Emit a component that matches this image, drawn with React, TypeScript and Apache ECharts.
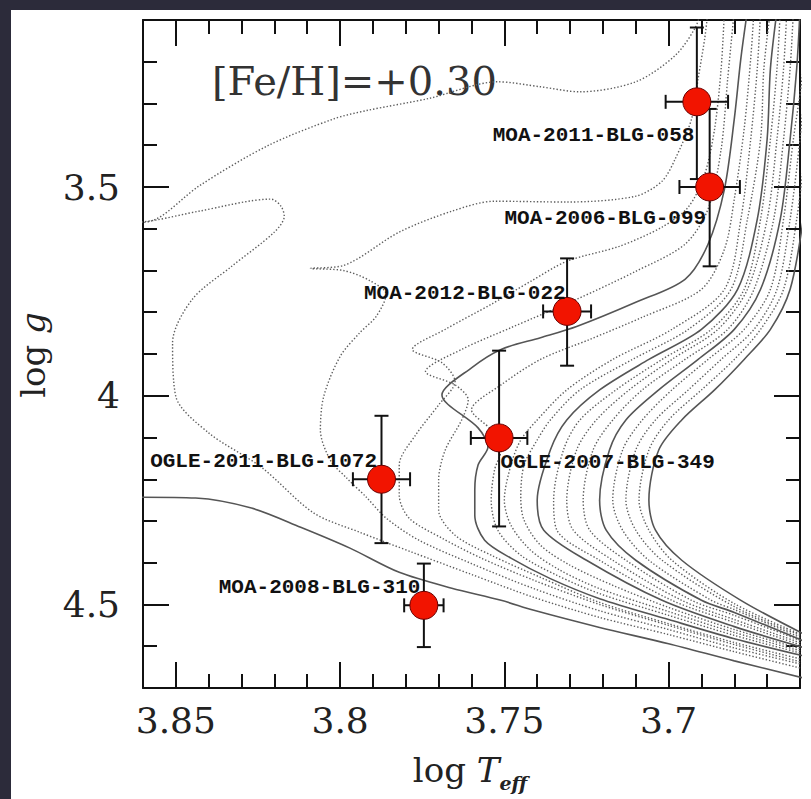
import React, { useEffect, useRef } from "react";
import * as echarts from "echarts";

// ---- Stars (microlensed dwarfs) ----
const starNames = [
  "MOA-2011-BLG-058",
  "MOA-2006-BLG-099",
  "MOA-2012-BLG-022",
  "OGLE-2007-BLG-349",
  "OGLE-2011-BLG-1072",
  "MOA-2008-BLG-310",
];
const starLogTeff = [3.6914, 3.6875, 3.7309, 3.7516, 3.7874, 3.7745];
const starLogg = [3.296, 3.5, 3.798, 4.101, 4.2, 4.502];
const starTeffErr = [0.0095, 0.0092, 0.0073, 0.0086, 0.0087, 0.006];
const starLoggErrLow = [0.178, 0.187, 0.127, 0.209, 0.152, 0.1];
const starLoggErrHigh = [0.185, 0.19, 0.13, 0.212, 0.153, 0.1];

// ---- Axis ticks ----
const xMajorTicks = [3.7, 3.75, 3.8, 3.85];
const xMinorTicks = [3.67, 3.68, 3.69, 3.7, 3.71, 3.72, 3.73, 3.74, 3.75, 3.76, 3.77, 3.78, 3.79, 3.8, 3.81, 3.82, 3.83, 3.84, 3.85];
const yMajorTicks = [3.5, 4, 4.5];
const yMinorTicks = [3.2, 3.3, 3.4, 3.5, 3.6, 3.7, 3.8, 3.9, 4.0, 4.1, 4.2, 4.3, 4.4, 4.5, 4.6];

// ---- Isochrones [logTeff, logg] ----
const isoS0 = [[3.865,4.243],[3.860,4.243],[3.844,4.245],[3.827,4.269],[3.812,4.315],[3.797,4.365],[3.782,4.423],[3.766,4.461],[3.751,4.490],[3.741,4.514],[3.721,4.555],[3.700,4.594],[3.680,4.635],[3.659,4.676]];
const isoD1 = [[3.659,4.654],[3.680,4.613],[3.700,4.572],[3.721,4.531],[3.741,4.483],[3.760,4.428],[3.778,4.375],[3.794,4.327],[3.808,4.281],[3.824,4.171],[3.840,4.089],[3.850,4.002],[3.851,3.873],[3.845,3.769],[3.833,3.690],[3.820,3.608],[3.817,3.570],[3.818,3.546],[3.821,3.529],[3.843,3.558],[3.856,3.579],[3.866,3.589],[3.856,3.577],[3.843,3.498],[3.822,3.401],[3.802,3.337],[3.792,3.317],[3.773,3.288],[3.752,3.248],[3.739,3.260],[3.727,3.272],[3.710,3.248],[3.698,3.185],[3.692,3.120],[3.690,3.077]];
const isoD2 = [[3.659,4.644],[3.680,4.604],[3.700,4.560],[3.721,4.515],[3.741,4.462],[3.760,4.402],[3.776,4.346],[3.786,4.293],[3.792,4.243],[3.798,4.197],[3.803,4.154],[3.806,4.082],[3.805,4.002],[3.800,3.906],[3.794,3.849],[3.789,3.810],[3.786,3.757],[3.791,3.724],[3.799,3.700],[3.809,3.695],[3.799,3.688],[3.782,3.608],[3.766,3.558],[3.753,3.534],[3.731,3.536],[3.710,3.522],[3.702,3.486],[3.698,3.433],[3.693,3.337],[3.691,3.240],[3.689,3.144],[3.688,3.077]];
const isoD3 = [[3.659,4.639],[3.680,4.596],[3.700,4.550],[3.721,4.500],[3.741,4.442],[3.757,4.389],[3.769,4.341],[3.779,4.293],[3.782,4.238],[3.782,4.166],[3.777,4.094],[3.770,4.022],[3.765,3.966],[3.769,3.921],[3.778,3.889],[3.768,3.841],[3.754,3.781],[3.742,3.726],[3.731,3.678],[3.715,3.642],[3.702,3.596],[3.694,3.548],[3.689,3.469],[3.686,3.361],[3.684,3.216],[3.683,3.077]];
const isoD4 = [[3.659,4.632],[3.680,4.591],[3.700,4.546],[3.721,4.495],[3.739,4.435],[3.754,4.382],[3.765,4.334],[3.770,4.274],[3.770,4.202],[3.768,4.130],[3.763,4.058],[3.761,4.010],[3.765,3.974],[3.774,3.942],[3.763,3.889],[3.748,3.837],[3.728,3.769],[3.710,3.702],[3.695,3.637],[3.688,3.553],[3.684,3.409],[3.682,3.240],[3.680,3.077]];
const isoS1 = [[3.659,4.623],[3.680,4.582],[3.700,4.536],[3.721,4.486],[3.736,4.438],[3.748,4.389],[3.756,4.346],[3.759,4.286],[3.759,4.226],[3.758,4.166],[3.755,4.123],[3.758,4.077],[3.769,3.998],[3.760,3.933],[3.751,3.889],[3.739,3.861],[3.728,3.834],[3.710,3.776],[3.695,3.721],[3.688,3.637],[3.683,3.505],[3.680,3.337],[3.678,3.192],[3.676,3.077]];
const isoK1 = [[3.659,4.618],[3.680,4.574],[3.700,4.526],[3.721,4.474],[3.734,4.430],[3.745,4.382],[3.752,4.322],[3.754,4.250],[3.753,4.178],[3.751,4.130],[3.754,4.082],[3.760,4.034],[3.751,3.974],[3.739,3.913],[3.724,3.865],[3.708,3.812],[3.690,3.745],[3.683,3.649],[3.680,3.529],[3.677,3.361],[3.675,3.192],[3.674,3.077]];
const isoK2 = [[3.659,4.613],[3.680,4.567],[3.700,4.517],[3.721,4.462],[3.733,4.418],[3.742,4.370],[3.748,4.310],[3.750,4.250],[3.748,4.166],[3.745,4.106],[3.740,4.058],[3.731,3.986],[3.717,3.913],[3.699,3.841],[3.683,3.745],[3.678,3.577],[3.675,3.385],[3.673,3.216],[3.672,3.077]];
const isoK3 = [[3.659,4.608],[3.680,4.560],[3.700,4.507],[3.717,4.454],[3.730,4.406],[3.739,4.358],[3.744,4.298],[3.745,4.243],[3.744,4.166],[3.740,4.106],[3.736,4.058],[3.727,3.986],[3.711,3.913],[3.694,3.841],[3.681,3.745],[3.676,3.577],[3.672,3.385],[3.671,3.216],[3.669,3.077]];
const isoK4 = [[3.659,4.603],[3.680,4.553],[3.702,4.490],[3.725,4.394],[3.738,4.322],[3.740,4.250],[3.736,4.130],[3.731,4.058],[3.721,3.986],[3.706,3.913],[3.690,3.841],[3.679,3.745],[3.673,3.577],[3.670,3.385],[3.669,3.216],[3.667,3.077]];
const isoK5 = [[3.659,4.599],[3.680,4.543],[3.699,4.490],[3.721,4.394],[3.734,4.322],[3.735,4.250],[3.732,4.130],[3.727,4.058],[3.716,3.986],[3.702,3.913],[3.687,3.841],[3.677,3.745],[3.672,3.577],[3.669,3.385],[3.667,3.216],[3.666,3.077]];
const isoK6 = [[3.659,4.594],[3.680,4.536],[3.696,4.490],[3.717,4.394],[3.729,4.322],[3.731,4.250],[3.728,4.130],[3.722,4.058],[3.712,3.986],[3.699,3.913],[3.685,3.841],[3.676,3.745],[3.670,3.577],[3.667,3.385],[3.665,3.216],[3.664,3.077]];
const isoK7 = [[3.659,4.589],[3.680,4.526],[3.693,4.490],[3.713,4.394],[3.724,4.322],[3.726,4.250],[3.723,4.130],[3.717,4.058],[3.708,3.986],[3.695,3.913],[3.682,3.841],[3.674,3.745],[3.668,3.577],[3.665,3.385],[3.663,3.216],[3.662,3.077]];
const isoK8 = [[3.659,4.587],[3.680,4.519],[3.690,4.490],[3.710,4.394],[3.719,4.322],[3.721,4.250],[3.718,4.130],[3.713,4.058],[3.703,3.986],[3.691,3.913],[3.680,3.841],[3.672,3.745],[3.666,3.577],[3.663,3.385],[3.661,3.216],[3.660,3.077]];
const isoK9 = [[3.659,4.582],[3.680,4.512],[3.687,4.490],[3.706,4.394],[3.714,4.322],[3.717,4.250],[3.714,4.130],[3.708,4.058],[3.699,3.986],[3.688,3.913],[3.677,3.841],[3.669,3.745],[3.665,3.577],[3.662,3.385],[3.659,3.216],[3.658,3.077]];
const isoK10 = [[3.659,4.577],[3.680,4.505],[3.702,4.394],[3.710,4.322],[3.713,4.250],[3.710,4.130],[3.704,4.058],[3.694,3.986],[3.684,3.913],[3.674,3.841],[3.667,3.745],[3.663,3.577],[3.660,3.385],[3.658,3.216]];
const isoK11 = [[3.659,4.574],[3.680,4.498],[3.699,4.394],[3.706,4.322],[3.709,4.250],[3.706,4.130],[3.700,4.058],[3.690,3.986],[3.680,3.913],[3.672,3.841],[3.665,3.745],[3.661,3.577],[3.658,3.385]];
const isoK12 = [[3.659,4.570],[3.678,4.490],[3.696,4.394],[3.704,4.322],[3.706,4.250],[3.703,4.130],[3.696,4.058],[3.686,3.986],[3.677,3.913],[3.669,3.841],[3.663,3.745],[3.659,3.577],[3.657,3.433]];

const isochrones = [isoS0, isoD1, isoD2, isoD3, isoD4, isoS1, isoK1, isoK2, isoK3, isoK4, isoK5, isoK6, isoK7, isoK8, isoK9, isoK10, isoK11, isoK12];
const isoSolid = [true, false, false, false, false, true, false, false, false, true, false, false, false, true, false, false, false, true];

// label placement (pixels relative to the marker centre)
const labelPlacement: Record<string, { dx: number; dy: number; align: string }> = {
  "MOA-2011-BLG-058": { dx: -2, dy: 34, align: "right" },
  "MOA-2006-BLG-099": { dx: -3, dy: 32, align: "right" },
  "MOA-2012-BLG-022": { dx: -1, dy: -17, align: "right" },
  "OGLE-2007-BLG-349": { dx: 2, dy: 25, align: "left" },
  "OGLE-2011-BLG-1072": { dx: -4, dy: -17, align: "right" },
  "MOA-2008-BLG-310": { dx: -3, dy: -17, align: "right" },
};

const X_MIN = 3.66, X_MAX = 3.86, Y_MIN = 3.1, Y_MAX = 4.7;
const INK = "#111";
const fmt = (v: number) => String(parseFloat(Number(v).toFixed(2)));

function makeX(position: string, major: boolean, withLine: boolean, withLabel: boolean) {
  return {
    type: "value", position, min: X_MIN, max: X_MAX, inverse: true,
    axisLine: { show: withLine, onZero: false, lineStyle: { color: INK, width: 2 } },
    axisTick: { show: true, inside: true, length: major ? 26 : 14, lineStyle: { color: INK, width: 2 }, customValues: major ? xMajorTicks : xMinorTicks },
    axisLabel: withLabel
      ? { show: true, customValues: xMajorTicks, formatter: fmt, margin: 14, fontFamily: "DejaVu Serif", fontSize: 36, color: "#222" }
      : { show: false },
    splitLine: { show: false },
  };
}
function makeY(position: string, major: boolean, withLine: boolean, withLabel: boolean) {
  return {
    type: "value", position, min: Y_MIN, max: Y_MAX, inverse: true,
    axisLine: { show: withLine, onZero: false, lineStyle: { color: INK, width: 2 } },
    axisTick: { show: true, inside: true, length: major ? 26 : 14, lineStyle: { color: INK, width: 2 }, customValues: major ? yMajorTicks : yMinorTicks },
    axisLabel: withLabel
      ? { show: true, customValues: yMajorTicks, formatter: fmt, margin: 23, fontFamily: "DejaVu Serif", fontSize: 36, color: "#222" }
      : { show: false },
    splitLine: { show: false },
  };
}

export default function App() {
  const ref = useRef<HTMLDivElement>(null);
  useEffect(() => {
    if (!ref.current) return;
    const chart = echarts.init(ref.current, null, { renderer: "svg" });

    const isoSeries = isochrones.map((d, i) => ({
      type: "line",
      xAxisIndex: 0, yAxisIndex: 0,
      data: d,
      showSymbol: false,
      symbol: "none",
      smooth: 0.3,
      silent: true,
      z: isoSolid[i] ? 3 : 2,
      lineStyle: isoSolid[i]
        ? { color: "#555555", width: 1.6, type: "solid" }
        : { color: "#5e5e5e", width: 1.4, type: [1.4, 2.0] },
    }));

    const errData = starNames.map((_, i) => [starLogTeff[i], starLogg[i], starTeffErr[i], starLoggErrLow[i], starLoggErrHigh[i]]);

    const option: any = {
      animation: false,
      backgroundColor: "#ffffff",
      grid: { left: 132, top: 10, right: 11, bottom: 111, containLabel: false, outerBoundsMode: "none" },
      xAxis: [makeX("bottom", true, true, true), makeX("bottom", false, false, false), makeX("top", true, true, false), makeX("top", false, false, false)],
      yAxis: [makeY("left", true, true, true), makeY("left", false, false, false), makeY("right", true, true, false), makeY("right", false, false, false)],
      graphic: [
        {
          type: "text", x: 201, y: 71,
          style: { text: "[Fe/H]=+0.30", fontFamily: "DejaVu Serif", fontSize: 40, fill: "#333", align: "left", verticalAlign: "middle" },
        },
        {
          type: "text", x: 459, y: 760,
          style: {
            text: "{a|log }{b|T}{c|eff}", align: "center", verticalAlign: "middle", fill: "#222",
            rich: {
              a: { fontFamily: "DejaVu Serif", fontSize: 34, fill: "#222", lineHeight: 44 },
              b: { fontFamily: "DejaVu Serif", fontStyle: "italic", fontSize: 34, fill: "#222", lineHeight: 44 },
              c: { fontFamily: "DejaVu Serif", fontStyle: "italic", fontWeight: "bold", fontSize: 19, fill: "#222", verticalAlign: "bottom", lineHeight: 44 },
            },
          },
        },
        {
          type: "text", x: 22, y: 345, rotation: Math.PI / 2,
          style: {
            text: "{a|log }{b|g}", align: "center", verticalAlign: "middle", fill: "#222",
            rich: {
              a: { fontFamily: "DejaVu Serif", fontSize: 34, fill: "#222" },
              b: { fontFamily: "DejaVu Serif", fontStyle: "italic", fontSize: 34, fill: "#222" },
            },
          },
        },
      ],
      series: [
        ...isoSeries,
        {
          type: "custom",
          xAxisIndex: 0, yAxisIndex: 0,
          z: 8,
          silent: true,
          clip: false,
          data: errData,
          renderItem: (_params: any, api: any) => {
            const x = api.value(0), y = api.value(1), ex = api.value(2), lo = api.value(3), hi = api.value(4);
            const c = api.coord([x, y]);
            const pl = api.coord([x + ex, y]);
            const pr = api.coord([x - ex, y]);
            const pt = api.coord([x, y - lo]);
            const pb = api.coord([x, y + hi]);
            const cap = 7;
            const style = { stroke: INK, lineWidth: 2 };
            return {
              type: "group",
              children: [
                { type: "line", shape: { x1: pl[0], y1: c[1], x2: pr[0], y2: c[1] }, style },
                { type: "line", shape: { x1: c[0], y1: pt[1], x2: c[0], y2: pb[1] }, style },
                { type: "line", shape: { x1: pl[0], y1: c[1] - cap, x2: pl[0], y2: c[1] + cap }, style },
                { type: "line", shape: { x1: pr[0], y1: c[1] - cap, x2: pr[0], y2: c[1] + cap }, style },
                { type: "line", shape: { x1: c[0] - cap, y1: pt[1], x2: c[0] + cap, y2: pt[1] }, style },
                { type: "line", shape: { x1: c[0] - cap, y1: pb[1], x2: c[0] + cap, y2: pb[1] }, style },
              ],
            };
          },
        },
        {
          type: "scatter",
          xAxisIndex: 0, yAxisIndex: 0,
          z: 10,
          symbol: "circle",
          symbolSize: 28,
          itemStyle: { color: "#f21400", borderColor: "#6a0000", borderWidth: 1, opacity: 1 },
          data: starNames.map((name, i) => {
            const p = labelPlacement[name];
            return {
              name,
              value: [starLogTeff[i], starLogg[i]],
              label: {
                show: true, formatter: name,
                position: [14 + p.dx, 14 + p.dy], align: p.align, verticalAlign: "middle",
                fontFamily: "Liberation Mono", fontWeight: "bold", fontSize: 21, color: "#111",
              },
            };
          }),
        },
      ],
    };
    chart.setOption(option);
    return () => chart.dispose();
  }, []);

  return (
    <div style={{ position: "fixed", left: 0, top: 0, width: 811, height: 799, background: "#2c2b3a" }}>
      <div ref={ref} style={{ position: "absolute", left: 11, top: 10, width: 800, height: 789, background: "#fff" }} />
    </div>
  );
}
